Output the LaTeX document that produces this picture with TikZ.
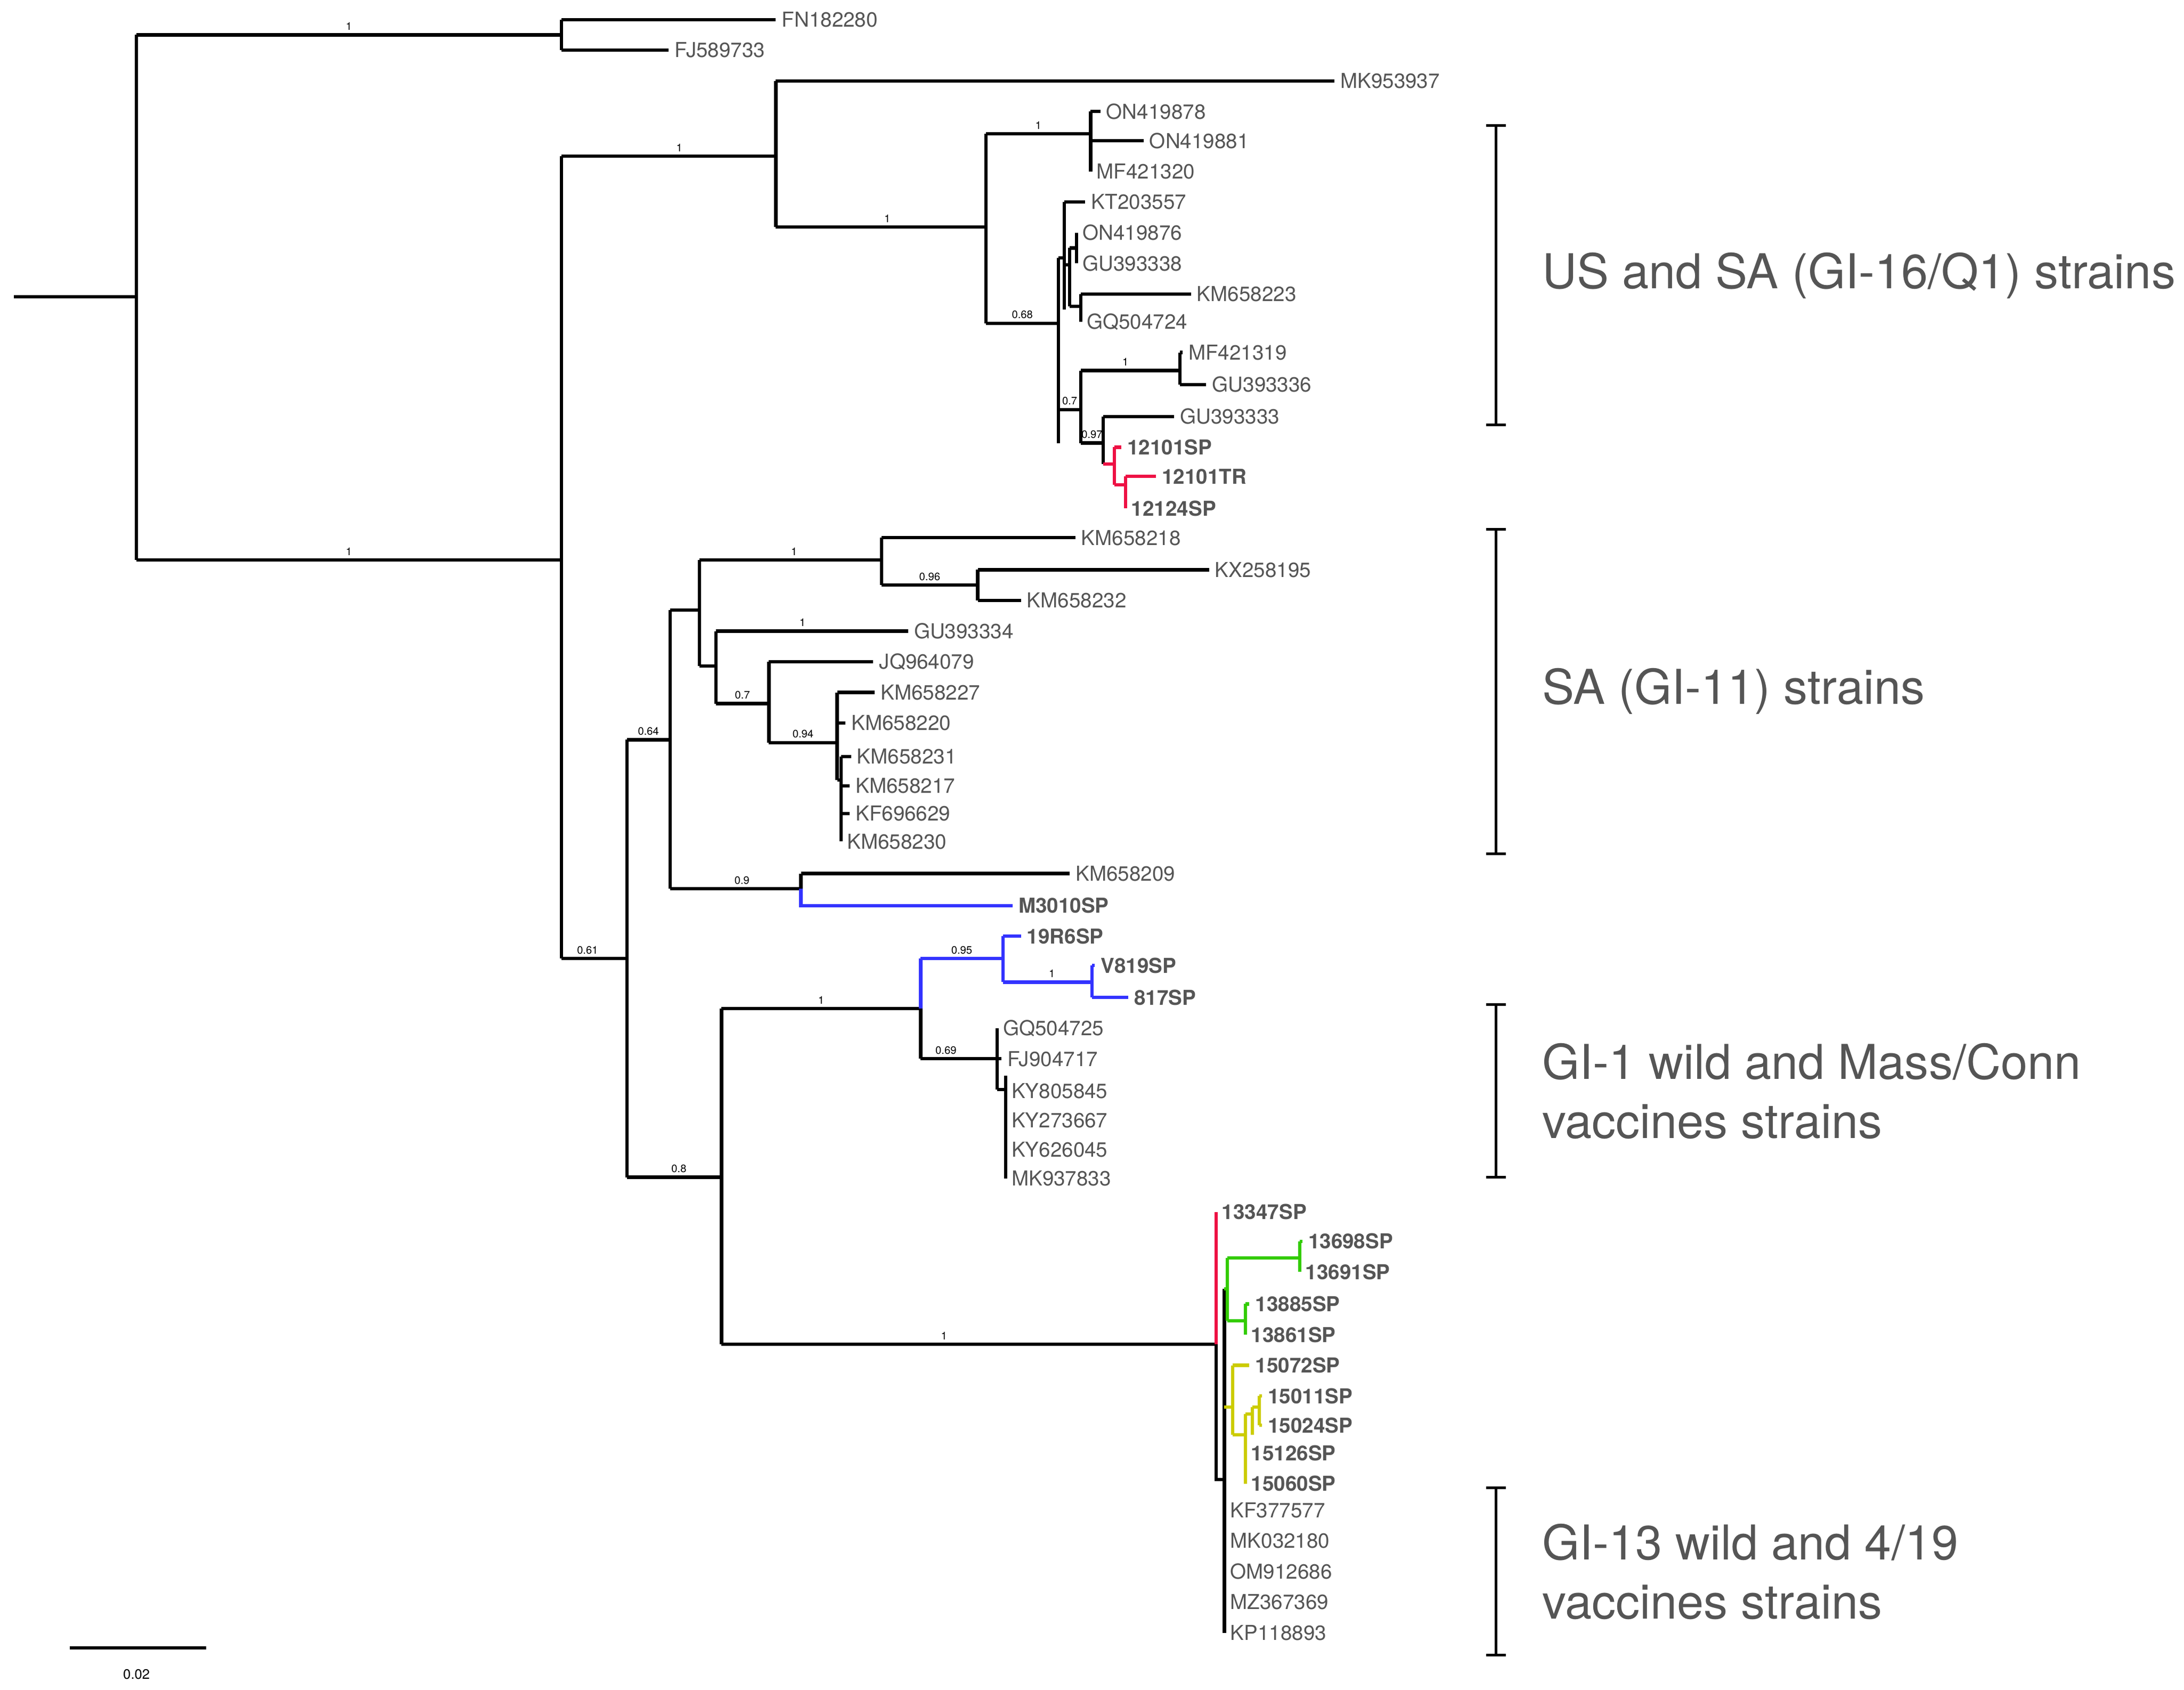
\documentclass[tikz,border=0pt]{standalone}
\usepackage{fontspec}
\setmainfont{TeX Gyre Heros}
\definecolor{txt}{HTML}{555555}
\definecolor{cred}{HTML}{EE1144}
\definecolor{cblue}{HTML}{3333FF}
\definecolor{cgreen}{HTML}{33CC00}
\definecolor{cyel}{HTML}{CCCC00}
\begin{document}
\begin{tikzpicture}[x=0.025cm,y=-0.025cm,line width=1.7pt,
  lf/.style={anchor=west,font=\fontsize{10.5}{12}\selectfont,text=txt,inner sep=2.2pt},
  bl/.style={lf,font=\fontsize{10.5}{12}\selectfont\bfseries},
  sup/.style={anchor=south,font=\fontsize{5.5}{6}\selectfont,text=black,inner sep=1.5pt},
  big/.style={anchor=west,font=\fontsize{24.5}{28}\selectfont,text=txt,inner sep=0pt}]
\useasboundingbox (0,0) rectangle (1568,1213);
% root
\draw (10,213)--(98,213); \draw (98,25)--(98,402);
\draw (98,25)--(403,25) node[sup,pos=.5]{1};
\draw (403,14)--(403,36); \draw (403,14)--(557,14) node[lf](a1){FN182280};
\draw (403,36)--(480,36) node[lf](a2){FJ589733};
\draw (98,402)--(403,402) node[sup,pos=.5]{1};
\draw (403,112)--(403,688);
% B1
\draw (403,112)--(557,112) node[sup,pos=.55]{1};
\draw (557,58)--(557,163); \draw (557,58)--(958,58) node[lf]{MK953937};
\draw (557,163)--(708,163) node[sup,pos=.53]{1};
\draw (708,96)--(708,232);
\draw (708,96)--(783,96) node[sup,pos=.5]{1};
\draw (783,80)--(783,123);
\draw (783,80)--(790,80) node[lf]{ON419878};
\draw (783,101)--(821,101) node[lf]{ON419881};
\draw (783,123) node[lf]{MF421320};
\draw (708,232)--(760,232) node[sup,pos=.5]{0.68};
\draw (760,185)--(760,318);
\draw (760,185)--(764,185); \draw (764,145)--(764,222);
\draw (764,145)--(779,145) node[lf]{KT203557};
\draw (764,190)--(768,190); \draw (768,178)--(768,220);
\draw (768,178)--(773,178); \draw (773,167)--(773,189);
\draw (773,167) node[lf]{ON419876};
\draw (773,189) node[lf]{GU393338};
\draw (768,220)--(776,220); \draw (776,211)--(776,231);
\draw (776,211)--(855,211) node[lf]{KM658223};
\draw (776,231) node[lf]{GQ504724};
\draw (760,294)--(776,294) node[sup,pos=.5]{0.7};
\draw (776,266)--(776,318);
\draw (776,266)--(847,266) node[sup,pos=.45]{1};
\draw (847,253)--(847,276);
\draw (847,253)--(849,253) node[lf]{MF421319};
\draw (847,276)--(866,276) node[lf]{GU393336};
\draw (776,318)--(792,318) node[sup,pos=.5]{0.97};
\draw (792,299)--(792,333);
\draw (792,299)--(843,299) node[lf]{GU393333};
\begin{scope}[draw=cred]
\draw (792,333)--(800,333); \draw (800,321)--(800,348);
\draw (800,321)--(805,321) node[bl]{12101SP};
\draw (800,348)--(808,348); \draw (808,342)--(808,365);
\draw (808,342)--(830,342) node[bl]{12101TR};
\draw (808,365) node[bl]{12124SP};
\end{scope}
% B2
\draw (403,688)--(450,688) node[sup,pos=.4]{0.61};
\draw (450,531)--(450,845);
\draw (450,531)--(481,531) node[sup,pos=.5]{0.64};
\draw (481,438)--(481,638);
\draw (481,438)--(502,438); \draw (502,402)--(502,478);
\draw (502,402)--(633,402) node[sup,pos=.52]{1};
\draw (633,386)--(633,420);
\draw (633,386)--(772,386) node[lf]{KM658218};
\draw (633,420)--(702,420) node[sup,pos=.5]{0.96};
\draw (702,409)--(702,431);
\draw (702,409)--(868,409) node[lf]{KX258195};
\draw (702,431)--(733,431) node[lf]{KM658232};
\draw (502,478)--(514,478); \draw (514,453)--(514,505);
\draw (514,453)--(652,453) node[sup,pos=.45]{1} node[lf]{GU393334};
\draw (514,505)--(552,505) node[sup,pos=.5]{0.7};
\draw (552,475)--(552,533);
\draw (552,475)--(627,475) node[lf]{JQ964079};
\draw (552,533)--(601,533) node[sup,pos=.5]{0.94};
\draw (601,497)--(601,560);
\draw (601,497)--(628,497) node[lf]{KM658227};
\draw (601,519)--(607,519) node[lf]{KM658220};
\draw (601,560)--(604,560); \draw (604,543)--(604,604);
\draw (604,543)--(611,543) node[lf]{KM658231};
\draw (604,564)--(610,564) node[lf]{KM658217};
\draw (604,584)--(610,584) node[lf]{KF696629};
\draw (604,604) node[lf]{KM658230};
\draw (481,638)--(575,638) node[sup,pos=.55]{0.9};
\draw (575,627)--(575,638);
\draw (575,627)--(768,627) node[lf]{KM658209};
\draw[cblue] (575,638)--(575,650)--(727,650) node[bl]{M3010SP};
\draw (450,845)--(518,845) node[sup,pos=.55]{0.8};
\draw (518,724)--(518,965);
\draw (518,724)--(661,724) node[sup,pos=.5]{1};
\draw (661,724)--(661,760);
\begin{scope}[draw=cblue]
\draw (661,724)--(661,688);
\draw (661,688)--(720,688) node[sup,pos=.5]{0.95};
\draw (720,672)--(720,705);
\draw (720,672)--(733,672) node[bl]{19R6SP};
\draw (720,705)--(784,705) node[sup,pos=.55]{1};
\draw (784,693)--(784,716);
\draw (784,693)--(786,693) node[bl]{V819SP};
\draw (784,716)--(810,716) node[bl]{817SP};
\end{scope}
\draw (661,760)--(716,760) node[sup,pos=.33]{0.69};
\draw (716,738)--(716,782);
\draw (716,738) node[lf]{GQ504725};
\draw (716,760)--(719,760) node[lf]{FJ904717};
\draw (716,782)--(722,782); \draw (722,772)--(722,846);
\draw (722,783) node[lf]{KY805845};
\draw (722,804) node[lf]{KY273667};
\draw (722,825) node[lf]{KY626045};
\draw (722,846) node[lf]{MK937833};
\draw (518,965)--(873,965) node[sup,pos=.45]{1};
\draw[cred] (873,870)--(873,965);
\draw[cred] (873,870) node[bl]{13347SP};
\draw (873,965)--(873,1062)--(879,1062);
\draw (879,925)--(879,1172);
\begin{scope}[draw=cgreen]
\draw (879,925)--(881,925); \draw (881,903)--(881,948);
\draw (881,903)--(933,903); \draw (933,891)--(933,913);
\draw (933,891)--(935,891) node[bl]{13698SP};
\draw (933,913) node[bl]{13691SP};
\draw (881,948)--(894,948); \draw (894,936)--(894,958);
\draw (894,936)--(897,936) node[bl]{13885SP};
\draw (894,958) node[bl]{13861SP};
\end{scope}
\begin{scope}[draw=cyel]
\draw (879,1010)--(885,1010); \draw (885,980)--(885,1030);
\draw (885,980)--(897,980) node[bl]{15072SP};
\draw (885,1030)--(894,1030); \draw (894,1015)--(894,1065);
\draw (894,1015)--(899,1015); \draw (899,1010)--(899,1030);
\draw (899,1010)--(904,1010); \draw (904,1002)--(904,1023);
\draw (904,1002)--(906,1002) node[bl]{15011SP};
\draw (904,1023)--(906,1023) node[bl]{15024SP};
\draw (894,1043) node[bl]{15126SP};
\draw (894,1065) node[bl]{15060SP};
\end{scope}
\draw (879,1084) node[lf]{KF377577};
\draw (879,1106) node[lf]{MK032180};
\draw (879,1128) node[lf]{OM912686};
\draw (879,1150) node[lf]{MZ367369};
\draw (879,1172) node[lf]{KP118893};
% brackets
\begin{scope}[line width=1.4pt]
\foreach \a/\b in {90/305,380/613,721/845,1068/1188}{
 \draw (1074,\a)--(1074,\b); \draw (1067,\a)--(1081,\a); \draw (1067,\b)--(1081,\b);}
\end{scope}
\node[big] (g1) at (1106,198) {US and SA (GI-16/Q1) strains};
\node[big] (g2) at (1106,496) {SA (GI-11) strains};
\node[big] (g3) at (1106,762) {GI-1 wild and Mass/Conn};
\node[big] (g3b) at (1106,805) {vaccines strains};
\node[big] (g4) at (1106,1107) {GI-13 wild and 4/19};
\node[big] (g4b) at (1106,1150) {vaccines strains};
% scale
\draw (50,1183)--(148,1183);
\node[font=\fontsize{7}{8}\selectfont] (sc) at (98,1202) {0.02};
\end{tikzpicture}
\end{document}
